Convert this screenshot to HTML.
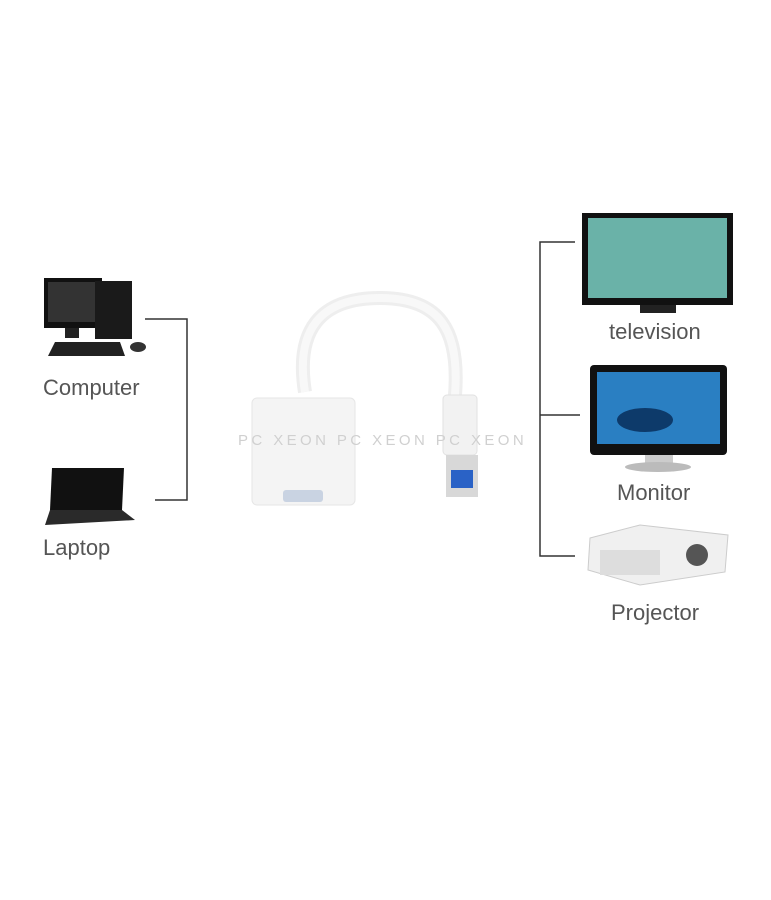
<!DOCTYPE html>
<html><head><meta charset="utf-8"><style>
body{margin:0;width:771px;height:900px;background:#fff;position:relative;overflow:hidden;font-family:"Liberation Sans",sans-serif}
.l{position:absolute;font-size:22px;color:#555;}
.wm{position:absolute;left:238px;top:432px;font-size:15px;letter-spacing:3.4px;color:#d0d0d0;white-space:nowrap}
</style></head><body>
<svg width="771" height="900" style="position:absolute;left:0;top:0">
<g stroke="#333" stroke-width="1.5" fill="none">
<polyline points="145,319 187,319 187,500 155,500"/>
<polyline points="575,242 540,242 540,556 575,556"/>
<line x1="540" y1="415" x2="580" y2="415"/>
</g>
<!-- computer -->
<rect x="44" y="278" width="58" height="50" fill="#111"/>
<rect x="48" y="282" width="50" height="40" fill="#333"/>
<rect x="65" y="328" width="14" height="10" fill="#222"/>
<rect x="95" y="281" width="37" height="58" fill="#1a1a1a"/>
<polygon points="55,342 120,342 125,356 48,356" fill="#222"/>
<ellipse cx="138" cy="347" rx="8" ry="5" fill="#333"/>
<!-- laptop -->
<polygon points="52,468 124,468 122,510 50,510" fill="#111"/>
<polygon points="50,510 122,510 135,520 45,525" fill="#2a2a2a"/>
<!-- cable -->
<path d="M305,392 C295,330 320,298 380,298 C440,298 460,330 455,395" stroke="#eee" stroke-width="14" fill="none"/>
<path d="M305,392 C295,330 320,298 380,298 C440,298 460,330 455,395" stroke="#f8f8f8" stroke-width="8" fill="none"/>
<rect x="252" y="398" width="103" height="107" rx="5" fill="#f4f4f4" stroke="#e6e6e6"/>
<rect x="283" y="490" width="40" height="12" rx="3" fill="#c9d3e2"/>
<rect x="443" y="395" width="34" height="60" rx="4" fill="#f2f2f2" stroke="#e2e2e2"/>
<rect x="446" y="455" width="32" height="42" fill="#d8d8d8"/>
<rect x="451" y="470" width="22" height="18" fill="#2a62c6"/>
<!-- TV -->
<rect x="582" y="213" width="151" height="92" fill="#111"/>
<rect x="588" y="218" width="139" height="80" fill="#6ab2a8"/>
<rect x="640" y="305" width="36" height="8" fill="#222"/>
<!-- monitor -->
<rect x="590" y="365" width="137" height="90" rx="4" fill="#111"/>
<rect x="597" y="372" width="123" height="72" fill="#2a7fc2"/>
<ellipse cx="645" cy="420" rx="28" ry="12" fill="#0d3a6a"/>
<rect x="645" y="455" width="28" height="8" fill="#ccc"/>
<ellipse cx="658" cy="467" rx="33" ry="5" fill="#bbb"/>
<!-- projector -->
<polygon points="590,538 640,525 728,535 725,572 640,585 588,570" fill="#f0f0f0" stroke="#ccc"/>
<rect x="600" y="550" width="60" height="25" fill="#ddd"/>
<circle cx="697" cy="555" r="11" fill="#555"/>
</svg>
<div class="l" style="left:43px;top:375px">Computer</div>
<div class="l" style="left:43px;top:535px">Laptop</div>
<div class="l" style="left:609px;top:319px">television</div>
<div class="l" style="left:617px;top:480px">Monitor</div>
<div class="l" style="left:611px;top:600px">Projector</div>
<div class="wm">PC XEON PC XEON PC XEON</div>
</body></html>
